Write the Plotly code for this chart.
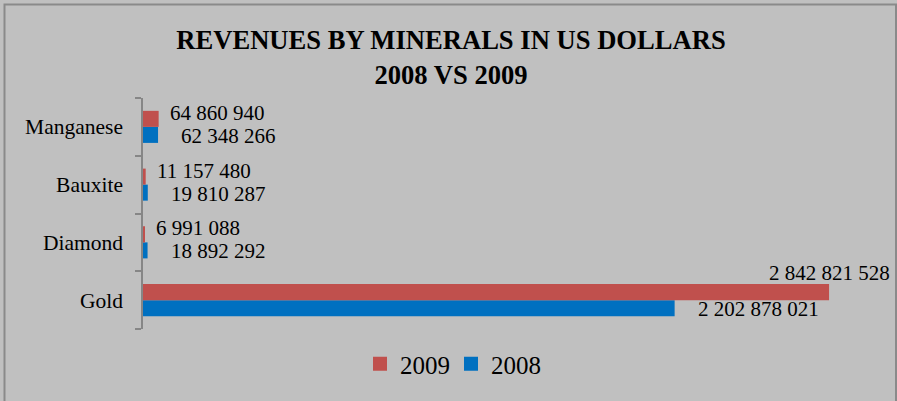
import plotly.graph_objects as go

# Revenue data (US dollars)
minerals = ["Gold", "Diamond", "Bauxite", "Manganese"]
rev_2008 = [2202878021, 18892292, 19810287, 62348266]
rev_2009 = [2842821528, 6991088, 11157480, 64860940]
series_names = ["2009", "2008"]

RED = "#C0504D"
BLUE = "#0070C0"
BG = "#C0C0C0"
SERIF = "Liberation Serif, Times New Roman, serif"

W, H = 897, 401
M_L, M_R, M_T, M_B = 143, 30, 98, 72
PLOT_W = W - M_L - M_R
PLOT_H = H - M_T - M_B


def fmt(v):
    return f"{v:,}".replace(",", " ")


def px_to_paper_x(px):
    return (px - M_L) / PLOT_W


def px_to_paper_y(py):
    return (H - M_B - py) / PLOT_H


fig = go.Figure()

# 2008 first so that 2009 sits above it within each category
fig.add_trace(go.Bar(y=minerals, x=rev_2008, orientation="h", name=series_names[1],
                     marker=dict(color=BLUE, line=dict(width=0)), showlegend=False,
                     hoverinfo="x+y"))
fig.add_trace(go.Bar(y=minerals, x=rev_2009, orientation="h", name=series_names[0],
                     marker=dict(color=RED, line=dict(width=0)), showlegend=False,
                     hoverinfo="x+y"))

# legend entries with square swatches
for name, col, rank in [(series_names[0], RED, 1), (series_names[1], BLUE, 2)]:
    fig.add_trace(go.Scatter(x=[None], y=[None], mode="markers", name=name,
                             marker=dict(symbol="square", size=14, color=col),
                             legendrank=rank, showlegend=True))

# value labels
annotations = []
for cat, v in zip(minerals, rev_2009):
    if v == max(rev_2009):
        annotations.append(dict(x=v, y=cat, text=fmt(v), showarrow=False,
                                xanchor="center", yanchor="middle", xshift=0, yshift=27))
    else:
        annotations.append(dict(x=v, y=cat, text=fmt(v), showarrow=False,
                                xanchor="left", yanchor="middle", xshift=9, yshift=14))
for cat, v in zip(minerals, rev_2008):
    annotations.append(dict(x=v, y=cat, text=fmt(v), showarrow=False,
                            xanchor="left", yanchor="middle", xshift=21, yshift=-9))
for a in annotations:
    a.update(xref="x", yref="y", font=dict(family=SERIF, size=21, color="black"))

fig.update_layout(
    width=W, height=H,
    margin=dict(l=M_L, r=M_R, t=M_T, b=M_B),
    paper_bgcolor=BG, plot_bgcolor=BG,
    barmode="group", bargap=0.445, bargroupgap=0,
    title=dict(text="<b>REVENUES BY MINERALS IN US DOLLARS<br>2008 VS 2009</b>",
               x=451 / W, xanchor="center", y=1 - 49 / H, yanchor="middle",
               xref="container", yref="container",
               font=dict(family=SERIF, size=26.6, color="black")),
    xaxis=dict(range=[0, 3.0e9], visible=False, fixedrange=True),
    yaxis=dict(type="category", showline=True, linecolor="#868686", linewidth=1.5,
               ticks="outside", tickson="boundaries", ticklen=6, tickcolor="#868686",
               tickwidth=1.5, ticklabelstandoff=14, showgrid=False, zeroline=False,
               tickfont=dict(family=SERIF, size=21.5, color="black")),
    legend=dict(orientation="h", x=px_to_paper_x(451), xanchor="center",
                y=px_to_paper_y(364), yanchor="middle", bgcolor="rgba(0,0,0,0)",
                font=dict(family=SERIF, size=25, color="black"),
                itemwidth=30, tracegroupgap=0, entrywidth=46),
    annotations=annotations,
    shapes=[dict(type="rect", xref="paper", yref="paper",
                 x0=px_to_paper_x(4.5), x1=px_to_paper_x(896),
                 y0=px_to_paper_y(410), y1=px_to_paper_y(4.5),
                 line=dict(color="#8A8A8A", width=2), fillcolor="rgba(0,0,0,0)",
                 layer="below")],
)

fig.write_html("out.html")
